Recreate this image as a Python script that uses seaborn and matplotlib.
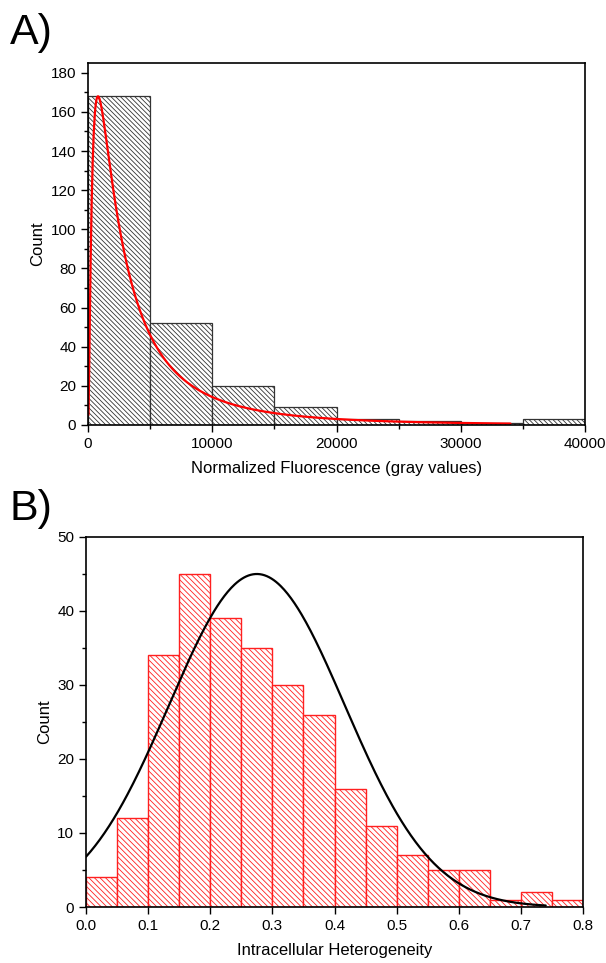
import numpy as np
import pandas as pd
import matplotlib
matplotlib.use("Agg")
import matplotlib.pyplot as plt
import seaborn as sns

# panel A: fluorescence histogram (bin width 5000)
fluor_edges = [0, 5000, 10000, 15000, 20000, 25000, 30000, 35000, 40000]
fluor_counts = [168, 52, 20, 9, 3, 2, 1, 3]
# lognormal fit: peak height, xc, width, end of curve
logn_peak = 168
logn_xc = 2920
logn_w = 1.136
logn_end = 34000

# panel B: heterogeneity histogram (bin width 0.05)
het_edges = [0.0, 0.05, 0.1, 0.15, 0.2, 0.25, 0.3, 0.35, 0.4, 0.45,
             0.5, 0.55, 0.6, 0.65, 0.7, 0.75, 0.8]
het_counts = [4, 12, 34, 45, 39, 35, 30, 26, 16, 11, 7, 5, 5, 1, 2, 1]
# gaussian fit: peak height, centre, sigma, end of curve
gauss_peak = 45
gauss_xc = 0.275
gauss_sigma = 0.1414
gauss_end = 0.74

sns.set_style("ticks")
plt.rcParams['font.family'] = ['Liberation Sans', 'DejaVu Sans']
plt.rcParams['hatch.linewidth'] = 0.6
for k in ("text.color", "axes.labelcolor", "xtick.color", "ytick.color"):
    plt.rcParams[k] = "black"

fig = plt.figure(figsize=(6.06, 9.63), dpi=100)
ax1 = fig.add_axes([88 / 606, 1 - 425 / 963, 497 / 606, 362 / 963])
ax2 = fig.add_axes([86 / 606, 1 - 907 / 963, 497 / 606, 370 / 963])

# --- A ---
dfa = pd.DataFrame({
    "x": [(fluor_edges[i] + fluor_edges[i + 1]) / 2 for i in range(len(fluor_counts))],
    "n": fluor_counts,
})
sns.histplot(data=dfa, x="x", weights="n", bins=fluor_edges, ax=ax1,
             color="white", edgecolor="black", linewidth=0.9, alpha=1)
for p in ax1.patches:
    p.set_facecolor("white")
    p.set_hatch("\\" * 7)
    p.set_edgecolor("#333333")

xa = np.linspace(40, logn_end, 800)
ya = np.exp(-np.log(xa / logn_xc) ** 2 / (2 * logn_w ** 2)) / xa
ya = ya / ya.max() * logn_peak
sns.lineplot(x=xa, y=ya, ax=ax1, color="red", linewidth=1.6, sort=False)

ax1.set_xlim(0, 40000)
ax1.set_ylim(0, 185)
ax1.set_xticks([0, 10000, 20000, 30000, 40000])
ax1.set_xticks([5000, 15000, 25000, 35000], minor=True)
ax1.set_yticks(range(0, 181, 20))
ax1.set_yticks(range(10, 181, 20), minor=True)
ax1.set_xlabel("Normalized Fluorescence (gray values)", fontsize=12, labelpad=7)
ax1.set_ylabel("Count", fontsize=12, labelpad=4)

# --- B ---
dfb = pd.DataFrame({
    "x": [(het_edges[i] + het_edges[i + 1]) / 2 for i in range(len(het_counts))],
    "n": het_counts,
})
sns.histplot(data=dfb, x="x", weights="n", bins=het_edges, ax=ax2,
             color="white", edgecolor="red", linewidth=1.0, alpha=1)
for p in ax2.patches:
    p.set_facecolor("white")
    p.set_hatch("\\" * 6)
    p.set_edgecolor("#ff2020")

xb = np.linspace(0, gauss_end, 400)
yb = gauss_peak * np.exp(-(xb - gauss_xc) ** 2 / (2 * gauss_sigma ** 2))
sns.lineplot(x=xb, y=yb, ax=ax2, color="black", linewidth=1.6, sort=False)

ax2.set_xlim(0, 0.8)
ax2.set_ylim(0, 50)
ax2.set_xticks(np.arange(0, 0.81, 0.1))
ax2.set_xticklabels([f"{v:.1f}" for v in np.arange(0, 0.81, 0.1)])
ax2.set_yticks(range(0, 51, 10))
ax2.set_yticks(range(5, 51, 10), minor=True)
ax2.set_xlabel("Intracellular Heterogeneity", fontsize=12, labelpad=7)
ax2.set_ylabel("Count", fontsize=12, labelpad=4)

for ax in (ax1, ax2):
    for s in ax.spines.values():
        s.set_visible(True)
        s.set_color("black")
        s.set_linewidth(1.2)
    ax.tick_params(which="major", direction="out", length=5, width=1, labelsize=11)
    ax.tick_params(which="minor", direction="out", length=3, width=1)
    ax.tick_params(axis="x", which="both", top=False)
    ax.tick_params(axis="y", which="both", right=False)

fig.text(10 / 606, 1 - 44 / 963, "A)", fontsize=31)
fig.text(10 / 606, 1 - 520 / 963, "B)", fontsize=31)

fig.savefig("out.png", dpi=100)
